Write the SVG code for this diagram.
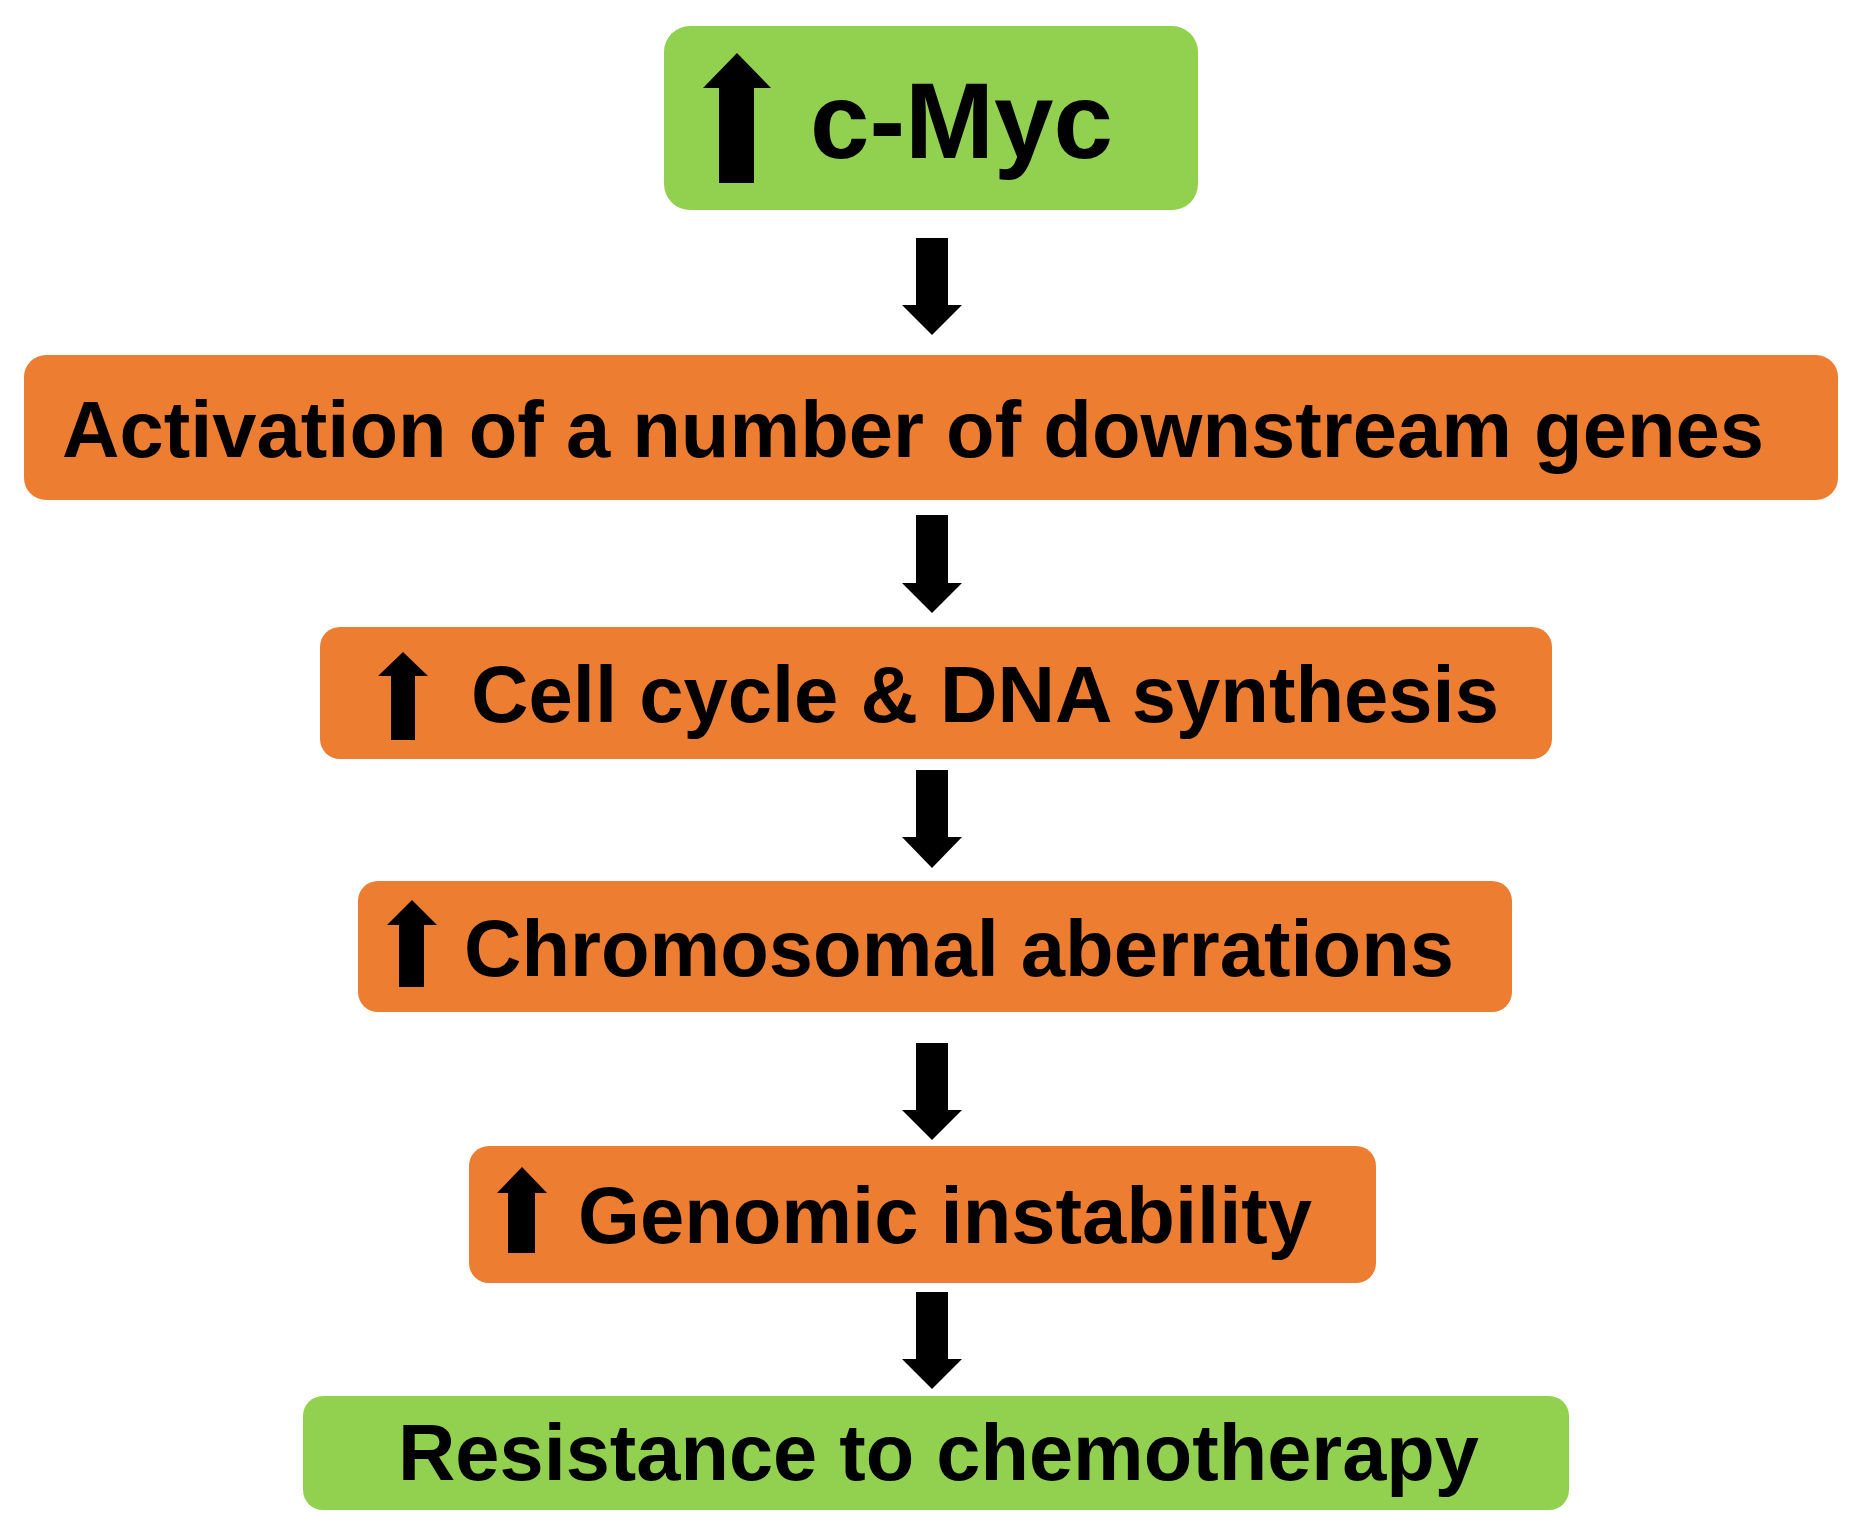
<svg xmlns="http://www.w3.org/2000/svg" width="1862" height="1535" viewBox="0 0 1862 1535">
<style>
.green{fill:#92D050}
.orange{fill:#ED7D31}
.lbl{font-family:"Liberation Sans",Arial,sans-serif;font-weight:bold;fill:#000;font-size:80px}
.arr{fill:#000}
</style>
<rect width="1862" height="1535" fill="#fff"/>
<g id="node-cmyc">
<rect class="green" x="664" y="26" width="534" height="184" rx="26"/>
<polygon class="arr" points="737,53 771,88 754,88 754,183 719,183 719,88 703,88"/>
<text class="lbl" x="810" y="158" style="font-size:107px" textLength="303" lengthAdjust="spacingAndGlyphs">c-Myc</text>
</g>
<g id="node-activation">
<rect class="orange" x="24" y="355" width="1814" height="145" rx="22"/>
<text class="lbl" x="62" y="457" textLength="1702" lengthAdjust="spacingAndGlyphs">Activation of a number of downstream genes</text>
</g>
<g id="node-cellcycle">
<rect class="orange" x="320" y="627" width="1232" height="132" rx="20"/>
<polygon class="arr" points="403,652 428,676 415,676 415,740 391,740 391,676 378,676"/>
<text class="lbl" x="471" y="722" textLength="1028" lengthAdjust="spacingAndGlyphs">Cell cycle &amp; DNA synthesis</text>
</g>
<g id="node-chromosomal">
<rect class="orange" x="358" y="881" width="1154" height="131" rx="20"/>
<polygon class="arr" points="412,900 437,925 424,925 424,987 399,987 399,925 387,925"/>
<text class="lbl" x="464" y="976" textLength="990" lengthAdjust="spacingAndGlyphs">Chromosomal aberrations</text>
</g>
<g id="node-genomic">
<rect class="orange" x="469" y="1146" width="907" height="137" rx="20"/>
<polygon class="arr" points="522,1167 547,1193 535,1193 535,1253 508,1253 508,1193 497,1193"/>
<text class="lbl" x="578" y="1243" textLength="734" lengthAdjust="spacingAndGlyphs">Genomic instability</text>
</g>
<g id="node-resistance">
<rect class="green" x="303" y="1396" width="1266" height="114" rx="20"/>
<text class="lbl" x="398" y="1480" textLength="1081" lengthAdjust="spacingAndGlyphs">Resistance to chemotherapy</text>
</g>
<g id="connectors">
<polygon class="arr" points="916,238 948,238 948,305 962,305 932,335 902,305 916,305"/>
<polygon class="arr" points="916,515 948,515 948,583 962,583 932,613 902,583 916,583"/>
<polygon class="arr" points="916,770 948,770 948,837 962,837 932,868 902,837 916,837"/>
<polygon class="arr" points="916,1043 948,1043 948,1110 962,1110 932,1140 902,1110 916,1110"/>
<polygon class="arr" points="916,1292 948,1292 948,1359 962,1359 932,1389 902,1359 916,1359"/>
</g>
</svg>
